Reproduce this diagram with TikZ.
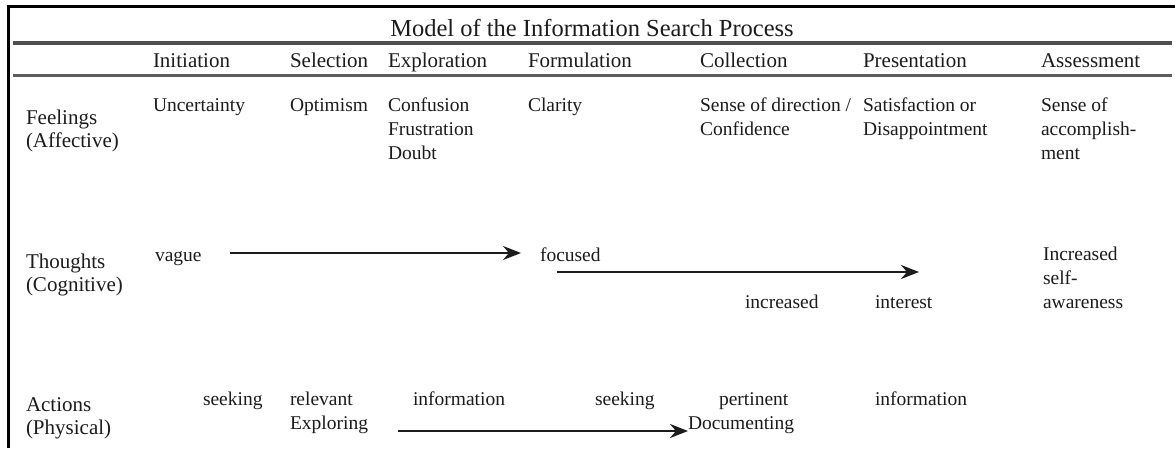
\documentclass[tikz,border=0pt]{standalone}
\usepackage{fontspec}
\setmainfont{Liberation Serif}
\usetikzlibrary{arrows.meta}
\definecolor{ink}{HTML}{1C1C1C}
\definecolor{rulethick}{HTML}{4F4F4F}
\definecolor{rulethin}{HTML}{5C5C5C}
% multi-line cell whose reference point is the baseline of its first line
\newcommand{\cellstack}[1]{\begin{tabular}[t]{@{}l@{}}#1\end{tabular}}
\begin{document}
\begin{tikzpicture}[x=1pt,y=-1pt,
  every node/.style={inner sep=0pt,outer sep=0pt,text=ink},
  titletext/.style={font=\fontsize{24.5}{28}\selectfont,anchor=base},
  headtext/.style={font=\fontsize{21}{25}\selectfont,anchor=base west},
  labeltext/.style={font=\fontsize{21}{23}\selectfont,anchor=base west},
  celltext/.style={font=\fontsize{19.5}{24}\selectfont,anchor=base west},
  flow/.style={draw=ink,line width=2.6pt,-{Stealth[length=18pt,width=14pt,inset=6pt]}},
  frame/.style={draw=black,line width=3pt},
]
\useasboundingbox (0,0) rectangle (1175,448);
\fill[white] (0,0) rectangle (1175,448);

% frame and rules
\draw[frame] (1175,6) -- (8.5,6) -- (8.5,448);
\draw[draw=rulethick,line width=4pt] (13,43) -- (1172,43);
\draw[draw=rulethin,line width=2.5pt] (13,75.5) -- (1172,75.5);

% title
\node[titletext] (title) at (592,36) {Model of the Information Search Process};

% stage headings
\node[headtext] (hInit) at (153,67) {Initiation};
\node[headtext] (hSel)  at (290,67) {Selection};
\node[headtext] (hExp)  at (388,67) {Exploration};
\node[headtext] (hForm) at (528,67) {Formulation};
\node[headtext] (hColl) at (700,67) {Collection};
\node[headtext] (hPres) at (863,67) {Presentation};
\node[headtext] (hAss)  at (1041,67) {Assessment};

% row labels
\node[labeltext] (lFeel) at (26,124) {\cellstack{Feelings\\(Affective)}};
\node[labeltext] (lThou) at (26,268) {\cellstack{Thoughts\\(Cognitive)}};
\node[labeltext] (lAct)  at (26,411) {\cellstack{Actions\\(Physical)}};

% feelings row
\node[celltext] (fInit) at (153,111) {Uncertainty};
\node[celltext] (fSel)  at (290,111) {Optimism};
\node[celltext] (fExp)  at (388,111) {\cellstack{Confusion\\Frustration\\Doubt}};
\node[celltext] (fForm) at (528,111) {Clarity};
\node[celltext] (fColl) at (700,111) {\cellstack{Sense of direction /\\Confidence}};
\node[celltext] (fPres) at (863,111) {\cellstack{Satisfaction or\\Disappointment}};
\node[celltext] (fAss)  at (1041,111) {\cellstack{Sense of\\accomplish-\\ment}};

% thoughts row
\node[celltext] (vague)     at (155,261) {vague};
\node[celltext] (focused)   at (540,261) {focused};
\node[celltext] (increased) at (745,308) {increased};
\node[celltext] (interest)  at (875,308) {interest};
\node[celltext] (tAss)      at (1043,260) {\cellstack{Increased\\self-\\awareness}};

\coordinate (t1s) at (230,253);
\coordinate (t1e) at (521,253);
\coordinate (t2s) at (557,272);
\coordinate (t2e) at (919,272);
\draw[flow] (t1s) -- (t1e);
\draw[flow] (t2s) -- (t2e);

% actions row
\node[celltext] (seek1)   at (203,405) {seeking};
\node[celltext] (relev)   at (290,405) {relevant};
\node[celltext] (explor)  at (290,429) {Exploring};
\node[celltext] (info1)   at (413,405) {information};
\node[celltext] (seek2)   at (595,405) {seeking};
\node[celltext] (pert)    at (719,405) {pertinent};
\node[celltext] (docu)    at (688,429) {Documenting};
\node[celltext] (info2)   at (875,405) {information};

\coordinate (a1s) at (398,431);
\draw[flow] (a1s) -- (docu.west |- a1s);
\end{tikzpicture}
\end{document}
